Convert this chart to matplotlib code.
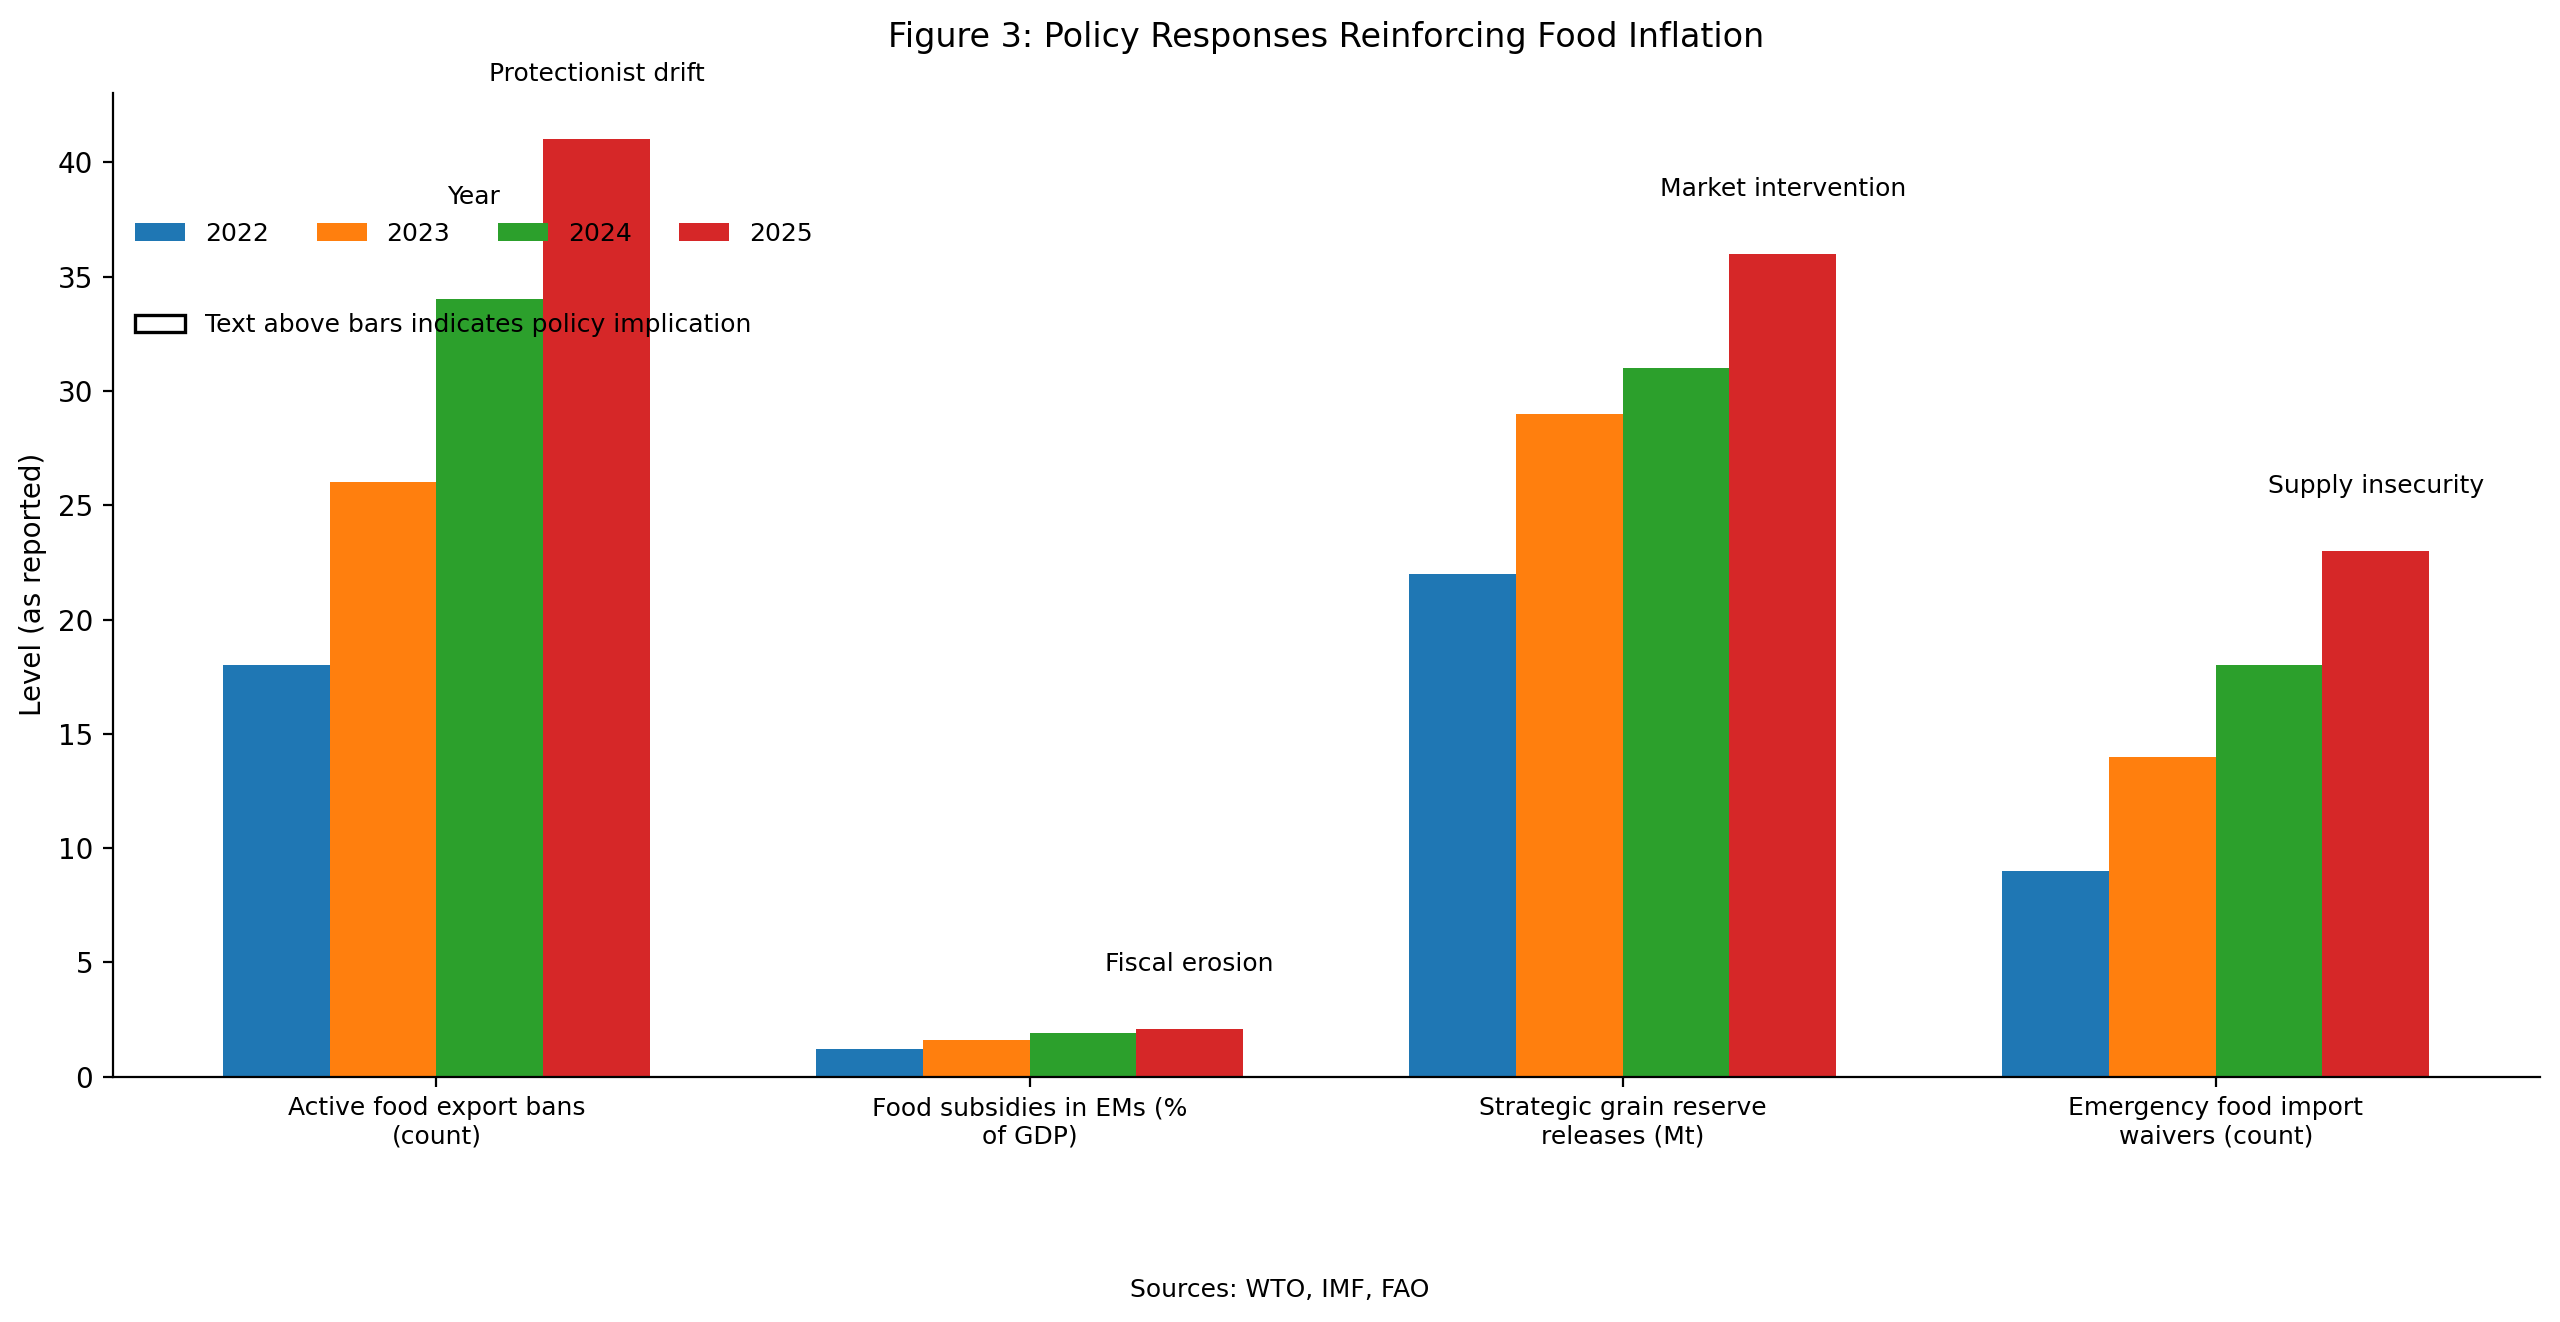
import matplotlib
matplotlib.use("Agg")
import matplotlib.pyplot as plt
import numpy as np
from matplotlib.patches import Patch

categories = ["Active food export bans\n(count)", "Food subsidies in EMs (%\nof GDP)",
              "Strategic grain reserve\nreleases (Mt)", "Emergency food import\nwaivers (count)"]
years = ["2022", "2023", "2024", "2025"]
values_2022 = [18, 1.2, 22, 9]
values_2023 = [26, 1.6, 29, 14]
values_2024 = [34, 1.9, 31, 18]
values_2025 = [41, 2.1, 36, 23]
implications = ["Protectionist drift", "Fiscal erosion", "Market intervention", "Supply insecurity"]
colors = ["#1f77b4", "#ff7f0e", "#2ca02c", "#d62728"]

series = [values_2022, values_2023, values_2024, values_2025]

fig = plt.figure(figsize=(12.8, 6.61), dpi=200)
ax = fig.add_axes([0.044, 0.1855, 0.948, 0.7445])

x = np.arange(len(categories))
w = 0.18
handles = []
for i, (yr, vals) in enumerate(zip(years, series)):
    b = ax.bar(x + (i - 1.5) * w, vals, w, color=colors[i], label=yr)
    handles.append(b)

for i, txt in enumerate(implications):
    top = max(s[i] for s in series)
    ax.text(x[i] + 1.5 * w, top + 2.85, txt, ha="center", va="center", fontsize=9)

ax.set_xticks(x)
ax.set_xticklabels(categories, fontsize=9)
ax.set_ylabel("Level (as reported)", fontsize=10)
ax.spines["top"].set_visible(False)
ax.spines["right"].set_visible(False)

leg1 = ax.legend(handles=handles, title="Year", ncol=4, frameon=False, fontsize=9,
                 title_fontsize=9, loc="upper left", bbox_to_anchor=(0, 0.9285),
                 columnspacing=1.9)
ax.add_artist(leg1)
p = Patch(facecolor="white", edgecolor="black", linewidth=1.2,
          label="Text above bars indicates policy implication")
ax.legend(handles=[p], frameon=False, fontsize=9, loc="upper left", bbox_to_anchor=(0, 0.7985))

ax.set_title("Figure 3: Policy Responses Reinforcing Food Inflation", fontsize=12, pad=16.5)
fig.text(0.5, 0.024, "Sources: WTO, IMF, FAO", ha="center", va="center", fontsize=9)

fig.savefig("out.png", dpi=200)
